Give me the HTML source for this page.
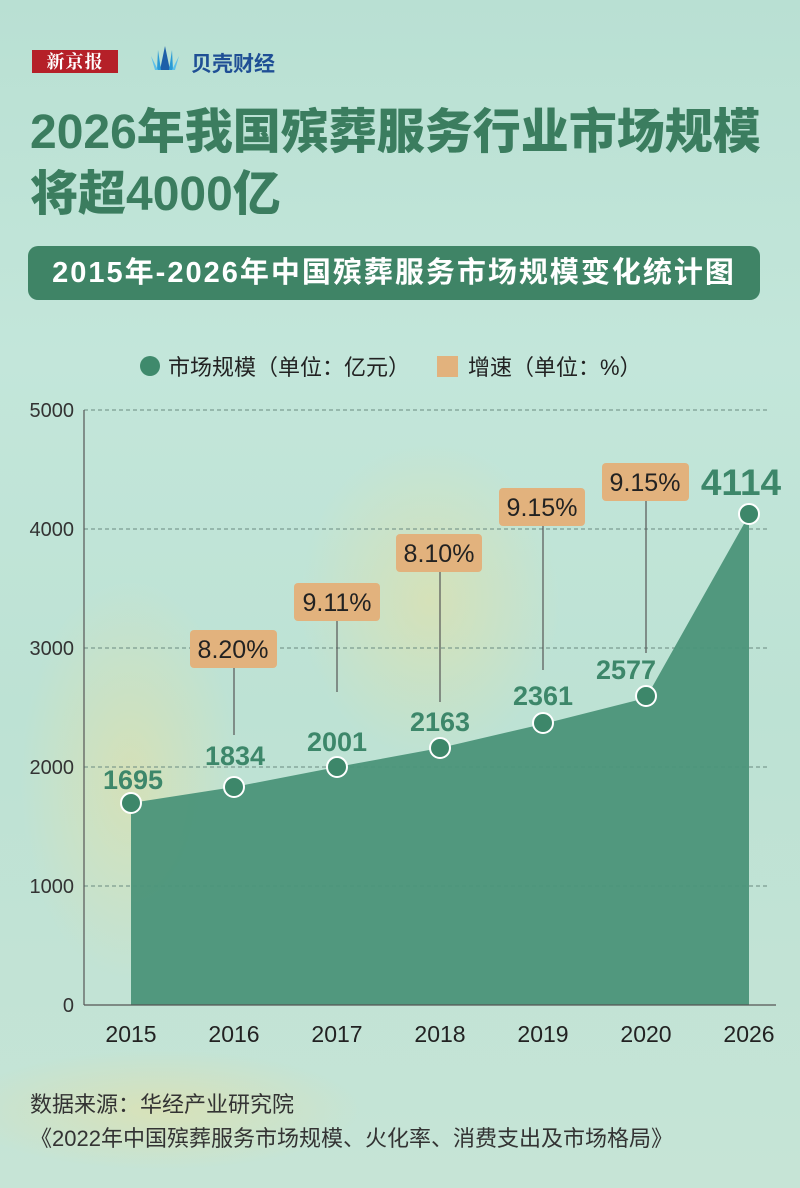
<!DOCTYPE html>
<html><head><meta charset="utf-8"><style>
html,body{margin:0;padding:0}
body{width:800px;height:1188px;position:relative;overflow:hidden;font-family:"Liberation Sans","Noto Sans CJK SC",sans-serif;
background:linear-gradient(180deg,#b9e0d3 0%,#c3e6da 30%,#bde2d4 60%,#c6e4d6 100%);}
.abs{position:absolute}
</style></head><body>
<svg class="abs" style="left:0;top:0" width="800" height="1188">
<defs>
<radialGradient id="y1" cx="0.5" cy="0.5" r="0.5"><stop offset="0" stop-color="#e8dfa0" stop-opacity="0.55"/><stop offset="1" stop-color="#e8dfa0" stop-opacity="0"/></radialGradient>
</defs>
<ellipse cx="130" cy="780" rx="110" ry="200" fill="url(#y1)"/>
<ellipse cx="430" cy="600" rx="130" ry="160" fill="url(#y1)"/>
<ellipse cx="160" cy="1110" rx="200" ry="60" fill="url(#y1)"/>
</svg>
<div class="abs" style="left:32px;top:50px;width:86px;height:23px;background:#b52028;color:#fff;font-family:'Noto Serif CJK SC',serif;font-weight:bold;font-size:18px;line-height:23px;text-align:center;letter-spacing:1px">新京报</div>
<svg class="abs" style="left:148px;top:44px" width="34" height="32"><g fill="#2a9bd6"><path d="M17 2 L12 26 L22 26Z" fill="#1e5fa8"/><path d="M10 6 L9 26 L13 26Z"/><path d="M24 6 L21 26 L25 26Z"/><path d="M3 12 L7 26 L10 26Z" fill="#5cc0ea"/><path d="M31 12 L24 26 L27 26Z" fill="#5cc0ea"/></g></svg>
<div class="abs" style="left:191px;top:48px;color:#1f4f95;font-weight:bold;font-size:21px">贝壳财经</div>
<div class="abs" style="left:30px;top:102px;color:#3b7d5f;font-weight:900;font-size:48px;line-height:62px;white-space:nowrap">2026年我国殡葬服务行业市场规模<br>将超4000亿</div>
<div class="abs" style="left:28px;top:246px;width:732px;height:54px;border-radius:10px;background:#3f8466;color:#fff;font-weight:bold;font-size:29px;letter-spacing:2px;line-height:54px;text-align:center;white-space:nowrap">2015年-2026年中国殡葬服务市场规模变化统计图</div>
<svg class="abs" style="left:0;top:0" width="800" height="1188" font-family="Liberation Sans, Noto Sans CJK SC, sans-serif">
<circle cx="150" cy="366" r="10" fill="#3f8a6c"/>
<text x="168" y="375" font-size="22" fill="#222">市场规模（单位：亿元）</text>
<rect x="437" y="356" width="21" height="21" fill="#e2b27d"/>
<text x="468" y="375" font-size="22" fill="#222">增速（单位：%）</text>
<g stroke="#6a8a80" stroke-dasharray="4,3" stroke-width="1">
<line x1="84" y1="410" x2="768" y2="410"/><line x1="84" y1="529" x2="768" y2="529"/><line x1="84" y1="648" x2="768" y2="648"/><line x1="84" y1="767" x2="768" y2="767"/><line x1="84" y1="886" x2="768" y2="886"/>
</g>
<g font-size="20" fill="#333" text-anchor="end">
<text x="74" y="417">5000</text><text x="74" y="536">4000</text><text x="74" y="655">3000</text><text x="74" y="774">2000</text><text x="74" y="893">1000</text><text x="74" y="1012">0</text>
</g>
<polygon points="131,1005 131,803 234,787 337,767 440,748 543,724 646,698 749,515 749,1005" fill="#4b9479" opacity="0.95"/>
<line x1="84" y1="410" x2="84" y2="1005" stroke="#555" stroke-width="1.2"/>
<line x1="84" y1="1005" x2="776" y2="1005" stroke="#555" stroke-width="1.2"/>
<g stroke="#555" stroke-width="1.2">
<line x1="234" y1="668" x2="234" y2="735"/><line x1="337" y1="620" x2="337" y2="692"/><line x1="440" y1="571" x2="440" y2="702"/><line x1="543" y1="526" x2="543" y2="670"/><line x1="646" y1="501" x2="646" y2="653"/>
</g>
<g fill="#e2b27d">
<rect x="190" y="630" width="87" height="38" rx="4"/><rect x="294" y="583" width="86" height="38" rx="4"/><rect x="396" y="534" width="86" height="38" rx="4"/><rect x="499" y="488" width="86" height="38" rx="4"/><rect x="602" y="463" width="87" height="38" rx="4"/>
</g>
<g font-size="25" fill="#222" text-anchor="middle">
<text x="233" y="658">8.20%</text><text x="337" y="611">9.11%</text><text x="439" y="562">8.10%</text><text x="542" y="516">9.15%</text><text x="645" y="491">9.15%</text>
</g>
<g fill="#3d876a" stroke="#fff" stroke-width="2">
<circle cx="131" cy="803" r="10"/><circle cx="234" cy="787" r="10"/><circle cx="337" cy="767" r="10"/><circle cx="440" cy="748" r="10"/><circle cx="543" cy="723" r="10"/><circle cx="646" cy="696" r="10"/><circle cx="749" cy="514" r="10"/>
</g>
<g font-size="27" font-weight="bold" fill="#3d876a" text-anchor="middle">
<text x="133" y="789">1695</text><text x="235" y="765">1834</text><text x="337" y="751">2001</text><text x="440" y="731">2163</text><text x="543" y="705">2361</text><text x="626" y="679">2577</text>
<text x="741" y="495" font-size="37">4114</text>
</g>
<g font-size="23" fill="#222" text-anchor="middle">
<text x="131" y="1042">2015</text><text x="234" y="1042">2016</text><text x="337" y="1042">2017</text><text x="440" y="1042">2018</text><text x="543" y="1042">2019</text><text x="646" y="1042">2020</text><text x="749" y="1042">2026</text>
</g>
<text x="30" y="1112" font-size="22" fill="#333">数据来源：华经产业研究院</text>
<text x="30" y="1146" font-size="22" fill="#333">《2022年中国殡葬服务市场规模、火化率、消费支出及市场格局》</text>
</svg>
</body></html>
